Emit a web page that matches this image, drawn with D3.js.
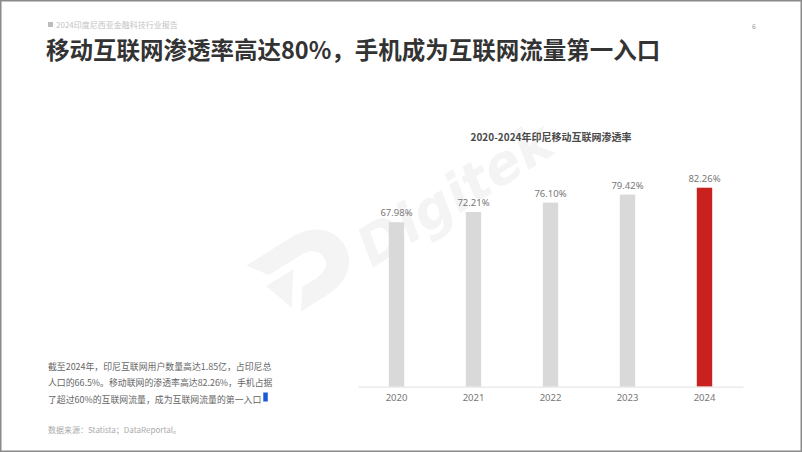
<!DOCTYPE html>
<html><head><meta charset="utf-8">
<script src="https://cdn.jsdelivr.net/npm/d3@7/dist/d3.min.js"></script>
<style>
html,body{margin:0;padding:0;background:#fff;}
svg{display:block;}
</style></head>
<body><svg id="c" width="802" height="452"></svg>
<script>
const years = ["2020","2021","2022","2023","2024"];
const penetration = [67.98, 72.21, 76.10, 79.42, 82.26];
const valueLabels = ["67.98%","72.21%","76.10%","79.42%","82.26%"];
const highlightYear = "2024";
const mainTitle = "移动互联网渗透率高达80%，手机成为互联网流量第一入口";
const headerText = "2024印度尼西亚金融科技行业报告";
const chartTitle = "2020-2024年印尼移动互联网渗透率";
const bodyLines = ["截至2024年，印尼互联网用户数量高达1.85亿，占印尼总",
                   "人口的66.5%。移动联网的渗透率高达82.26%，手机占据",
                   "了超过60%的互联网流量，成为互联网流量的第一入口"];
const sourceText = "数据来源：Statista；DataReportal。";

const font = "'Noto Sans CJK SC','Noto Sans',sans-serif";
const svg = d3.select("#c");

// frame
svg.append("rect").attr("x",0.75).attr("y",0.75).attr("width",800.5).attr("height",450.5)
  .attr("fill","#fff").attr("stroke","#8a8a8a").attr("stroke-width",1.5);

// watermark
const wm = svg.append("g").attr("fill","#f4f4f4");
wm.append("text").attr("transform","translate(372,268) rotate(-32)")
  .attr("font-family","'DejaVu Sans',sans-serif").attr("font-weight","bold").attr("font-style","italic")
  .attr("font-size",54).text("Digitek");
wm.append("path").attr("transform","translate(300,272) rotate(-32)")
  .attr("d","M-42,-34 L10,-34 C40,-34 52,-16 52,0 C52,18 38,34 10,34 L-20,34 L-6,14 L8,14 C22,14 28,8 28,0 C28,-8 22,-14 8,-14 L-28,-14 Z M-36,-6 L-4,-6 L-26,26 Z");

// header
svg.append("rect").attr("x",48).attr("y",22).attr("width",5).attr("height",5).attr("fill","#bdbdbd");
svg.append("text").attr("x",56).attr("y",27.5).attr("font-family",font).attr("font-size",8)
  .attr("fill","#c2c2c2").text(headerText);
svg.append("text").attr("x",754).attr("y",29).attr("font-family",font).attr("font-size",7)
  .attr("fill","#999").attr("text-anchor","middle").text("6");

// main title
svg.append("text").attr("x",46).attr("y",59).attr("font-family",font).attr("font-size",23.5)
  .attr("font-weight","bold").attr("fill","#333").text(mainTitle);

// chart
const x = d3.scaleBand().domain(years).range([358,743]).paddingInner(0.8).paddingOuter(0.4);
const y = d3.scaleLinear().domain([0,100]).range([386.7,144.8]);

svg.append("text").attr("x",551).attr("y",141).attr("text-anchor","middle")
  .attr("font-family",font).attr("font-size",10).attr("font-weight","bold").attr("fill","#4a4a4a")
  .text(chartTitle);

svg.selectAll("rect.bar").data(years).enter().append("rect").attr("class","bar")
  .attr("x",d=>x(d)).attr("width",x.bandwidth())
  .attr("y",(d,i)=>y(penetration[i])).attr("height",(d,i)=>y(0)-y(penetration[i]))
  .attr("fill",d=>d===highlightYear?"#c8211f":"#d9d9d9");

svg.selectAll("text.val").data(years).enter().append("text").attr("class","val")
  .attr("x",d=>x(d)+x.bandwidth()/2).attr("y",(d,i)=>y(penetration[i])-6)
  .attr("text-anchor","middle").attr("font-family","'Noto Sans',sans-serif").attr("font-size",9.5)
  .attr("fill","#777").text((d,i)=>valueLabels[i]);

const ax = svg.append("g").attr("transform",`translate(0,${y(0)})`)
  .call(d3.axisBottom(x).tickSize(0).tickPadding(8));
ax.select(".domain").attr("stroke","#e6e6e6").attr("stroke-width",1.2);
ax.selectAll("text").attr("font-family","'Noto Sans',sans-serif").attr("font-size",9.5).attr("fill","#777");

// body text
let lastEnd = 0;
bodyLines.forEach((t,i)=>{
  const tx = svg.append("text").attr("x",48).attr("y",369.5+i*16.5).attr("font-family",font)
    .attr("font-size",8.9).attr("fill","#666").text(t);
  lastEnd = 48 + tx.node().getComputedTextLength();
});
svg.append("rect").attr("x",lastEnd+2).attr("y",392.5).attr("width",4.5).attr("height",9).attr("fill","#1a5ad8");

svg.append("text").attr("x",48).attr("y",433).attr("font-family",font).attr("font-size",8)
  .attr("fill","#aaa").text(sourceText);
</script></body></html>
